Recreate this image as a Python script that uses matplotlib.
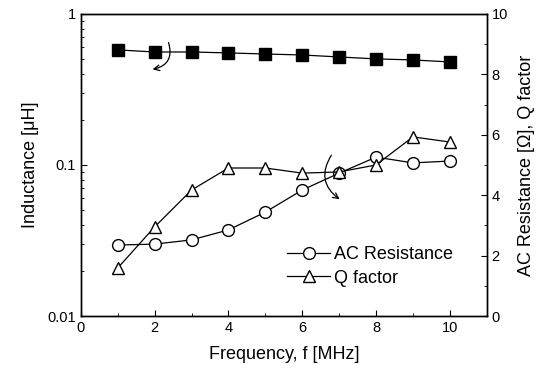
import numpy as np
import matplotlib.pyplot as plt

plt.rcParams['font.family'] = ['Liberation Sans', 'DejaVu Sans']

freq = [1, 2, 3, 4, 5, 6, 7, 8, 9, 10]
inductance = [0.578, 0.56, 0.56, 0.552, 0.543, 0.535, 0.519, 0.504, 0.496, 0.481]
ac_resistance = [2.35, 2.38, 2.52, 2.85, 3.44, 4.17, 4.73, 5.26, 5.07, 5.13]
q_factor = [1.59, 2.95, 4.17, 4.9, 4.9, 4.73, 4.77, 5.0, 5.93, 5.76]

fig = plt.figure(figsize=(5.39, 3.72), dpi=100)
ax = fig.add_axes([0.150, 0.1505, 0.753, 0.812])
ax2 = ax.twinx()

ax.plot(freq, inductance, color='black', lw=0.9, marker='s', ms=8,
        mfc='black', mec='black')
ax.set_yscale('log')
ax.set_ylim(0.01, 1)
ax.set_xlim(0, 11)
ax.set_xticks([0, 2, 4, 6, 8, 10])
ax.set_xticks([1, 3, 5, 7, 9], minor=True)
ax.set_yticks([0.01, 0.1, 1])
ax.set_yticklabels(['0.01', '0.1', '1'])
ax.tick_params(which='both', direction='in', top=False, right=False, labelsize=10.5)
ax.tick_params(which='major', length=4)
ax.tick_params(which='minor', length=2.5)
ax.set_xlabel('Frequency, f [MHz]', fontsize=13, labelpad=8)
ax.set_ylabel('Inductance [\u03bcH]', fontsize=13, labelpad=6)

ax2.plot(freq, ac_resistance, color='black', lw=0.9, marker='o', ms=8.5,
         mfc='white', mec='black', label='AC Resistance')
ax2.plot(freq, q_factor, color='black', lw=0.9, marker='^', ms=8.5,
         mfc='white', mec='black', label='Q factor')
ax2.set_ylim(0, 10)
ax2.set_yticks([0, 2, 4, 6, 8, 10])
ax2.set_yticks([1, 3, 5, 7, 9], minor=True)
ax2.tick_params(which='both', direction='in', labelsize=10.5)
ax2.tick_params(which='major', length=4)
ax2.tick_params(which='minor', length=2.5)
ax2.set_ylabel('AC Resistance [\u03a9], Q factor', fontsize=13, labelpad=7)

for a in (ax, ax2):
    for s in a.spines.values():
        s.set_linewidth(1.0)

ax2.legend(loc='upper left', bbox_to_anchor=(0.49, 0.255), frameon=False,
           fontsize=13, handlelength=2.4, handletextpad=0.2,
           labelspacing=0.35, borderaxespad=0)

# hand-drawn arrows pointing to the relevant axis
ax.annotate('', xy=(0.170, 0.815), xytext=(0.214, 0.914),
            xycoords='axes fraction',
            arrowprops=dict(arrowstyle='->', lw=0.9, color='black',
                            connectionstyle='arc3,rad=-0.6'))
ax.annotate('', xy=(0.643, 0.381), xytext=(0.621, 0.540),
            xycoords='axes fraction',
            arrowprops=dict(arrowstyle='->', lw=0.9, color='black',
                            connectionstyle='arc3,rad=0.5'))

fig.savefig('out.png', dpi=100)
